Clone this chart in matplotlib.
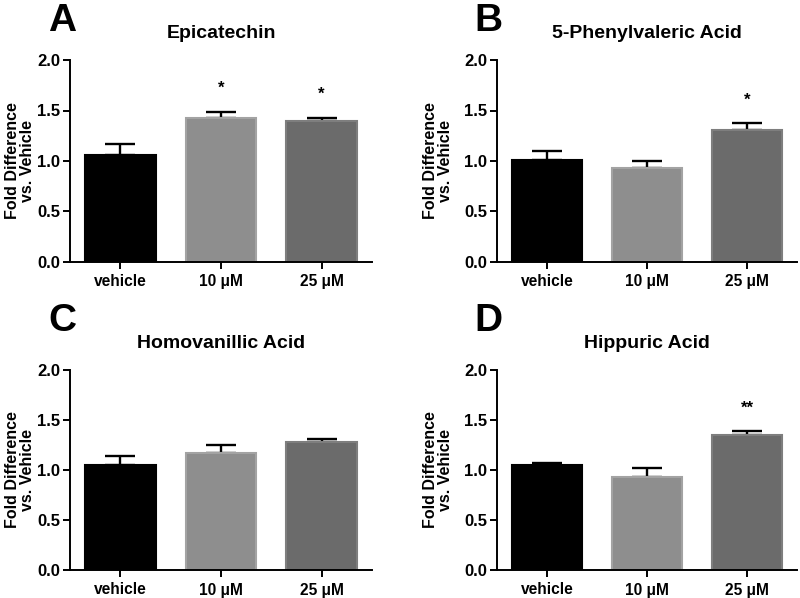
import numpy as np
import matplotlib
matplotlib.use('Agg')
import matplotlib.pyplot as plt

plt.rcParams['font.family'] = ['Liberation Sans', 'DejaVu Sans']
plt.rcParams['font.weight'] = 'bold'

# Data
groups = ['vehicle', '10 \u03bcM', '25 \u03bcM']
titles = ['Epicatechin', '5-Phenylvaleric Acid', 'Homovanillic Acid', 'Hippuric Acid']
letters = ['A', 'B', 'C', 'D']

epicatechin = [1.06, 1.43, 1.395]
epicatechin_err = [0.11, 0.06, 0.035]
epicatechin_sig = ['', '*', '*']

phenylvaleric = [1.01, 0.93, 1.31]
phenylvaleric_err = [0.09, 0.07, 0.065]
phenylvaleric_sig = ['', '', '*']

homovanillic = [1.05, 1.17, 1.28]
homovanillic_err = [0.095, 0.08, 0.035]
homovanillic_sig = ['', '', '']

hippuric = [1.05, 0.93, 1.355]
hippuric_err = [0.02, 0.09, 0.035]
hippuric_sig = ['', '', '**']

means = [epicatechin, phenylvaleric, homovanillic, hippuric]
errs = [epicatechin_err, phenylvaleric_err, homovanillic_err, hippuric_err]
sigs = [epicatechin_sig, phenylvaleric_sig, homovanillic_sig, hippuric_sig]

bar_colors = ['#000000', '#8e8e8e', '#6b6b6b']
edge_colors = ['#000000', '#a3a3a3', '#7e7e7e']

fig = plt.figure(figsize=(8, 5.98), dpi=100)

W, H = 800, 598
# axes boxes in pixels: left, top, right, bottom
boxes = [(70, 60, 372, 262), (497, 60, 797, 262),
         (70, 370, 372, 570), (497, 370, 797, 570)]
letter_pos = [(48, 3), (474, 3), (48, 303), (474, 303)]
label_x = [-0.115, -0.147, -0.115, -0.147]

for i in range(4):
    l, t, r, b = boxes[i]
    ax = fig.add_axes([l / W, 1 - b / H, (r - l) / W, (b - t) / H])
    x = np.arange(len(groups))
    ax.bar(x, means[i], width=0.7, color=bar_colors, edgecolor=edge_colors, linewidth=1.5, zorder=2)
    ax.errorbar(x, means[i], yerr=[np.zeros(3), errs[i]], fmt='none', ecolor='black',
                elinewidth=1.7, capsize=10.5, capthick=1.7, zorder=1)
    for j in range(3):
        if sigs[i][j]:
            ax.text(x[j], means[i][j] + errs[i][j] + 0.23, sigs[i][j], ha='center', va='center',
                    fontsize=12, fontweight='bold')
    ax.set_xlim(-0.5, 2.5)
    ax.set_ylim(0, 2.0)
    ax.set_yticks([0, 0.5, 1.0, 1.5, 2.0])
    ax.set_yticklabels(['0.0', '0.5', '1.0', '1.5', '2.0'])
    ax.set_xticks(x)
    ax.set_xticklabels(groups)
    ax.spines['top'].set_visible(False)
    ax.spines['right'].set_visible(False)
    ax.spines['left'].set_linewidth(1.4)
    ax.spines['bottom'].set_linewidth(1.4)
    ax.tick_params(axis='y', direction='out', length=5, width=1.4, labelsize=12, pad=2)
    ax.tick_params(axis='x', direction='out', length=5, width=1.4, labelsize=11.2, pad=4)
    for lab in ax.get_xticklabels() + ax.get_yticklabels():
        lab.set_fontweight('bold')
    ax.set_ylabel('Fold Difference\nvs. Vehicle', fontsize=11.5, fontweight='bold', linespacing=1.0)
    ax.yaxis.set_label_coords(label_x[i], 0.5)
    ax.set_title(titles[i], fontsize=14, fontweight='bold', pad=16)
    lx, ly = letter_pos[i]
    fig.text(lx / W, 1 - ly / H, letters[i], fontsize=28, fontweight='bold', ha='left', va='top')

fig.savefig('out.png', dpi=100)
